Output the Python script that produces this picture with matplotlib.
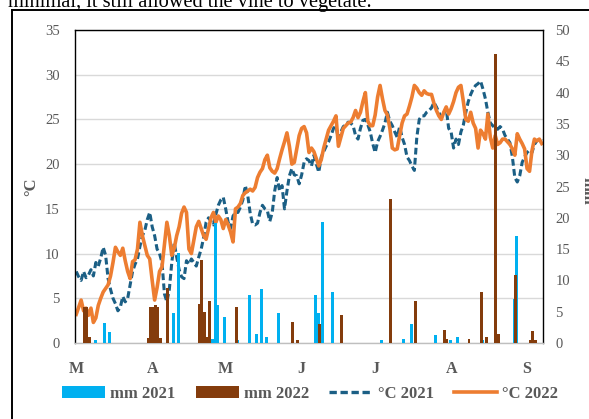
import matplotlib
matplotlib.use('Agg')
import matplotlib.pyplot as plt
from matplotlib.lines import Line2D
from matplotlib.patches import Patch
import numpy as np

# ---------------- data (daily, 1 March -> 7 September) ----------------
temp_2021 = [8.0, 7.4, 7.0, 8.0, 7.3, 7.6, 8.2, 7.5, 9.0, 8.6,
             9.5, 10.7, 9.8, 7.2, 6.0, 5.0, 4.4, 3.6, 4.0, 5.2,
             4.6, 5.0, 6.5, 8.0, 8.8, 9.4, 10.8, 12.0, 12.6, 13.8,
             14.6, 13.0, 12.0, 10.5, 10.0, 9.0, 5.5, 4.6, 6.0,
             9.0, 11.2, 9.6, 8.2, 7.4, 7.2, 9.2, 8.8, 9.4, 9.0,
             8.6, 9.6, 10.5, 11.8, 13.5, 14.0, 13.6, 13.2, 14.4, 15.4,
             16.0, 16.3, 15.0, 13.5, 12.8, 14.2, 14.6, 14.6, 15.2, 16.0,
             17.6, 16.5, 14.5, 13.3, 13.2, 13.4, 14.6, 15.4,
             15.0, 14.8, 13.6, 14.6, 17.0, 18.5, 17.0, 17.6, 15.0, 17.0,
             18.7, 19.5, 18.8, 18.7, 17.8, 18.8, 20.2, 20.6, 20.4, 19.8,
             21.0, 20.0, 19.1, 20.8, 21.4, 22.0, 22.5, 23.2, 24.0, 24.3,
             22.8, 23.6, 24.2, 24.4, 24.7, 24.6, 24.3, 23.2,
             22.8, 24.0, 24.9, 25.0, 24.4, 23.6, 22.3, 21.3, 22.5, 23.1,
             23.8, 24.6, 25.8, 24.8, 24.3, 23.6, 23.0, 24.2, 23.0, 22.2,
             20.8, 20.4, 19.8, 19.3, 23.0, 25.0, 25.4, 25.4, 25.8, 26.0,
             26.3, 26.9, 26.4, 25.8, 25.2, 25.7, 26.2, 24.0,
             23.6, 21.8, 22.8, 22.2, 23.6, 24.4, 25.8, 27.0, 27.8, 28.4,
             28.8, 29.0, 29.3, 28.4, 27.3, 25.8, 24.6, 24.3, 24.0, 23.9,
             24.2, 23.9, 23.2, 22.8, 22.4, 20.8, 18.5, 18.0, 18.7, 20.2,
             20.8, 21.3, 21.6, 21.3, 22.2, 22.6, 22.8, 22.6]

temp_2022 = [3.2, 4.0, 4.8, 3.6, 3.9, 3.1, 3.9, 2.3, 2.8, 4.2,
             5.0, 5.7, 6.1, 6.5, 7.5, 9.0, 10.7, 10.2, 9.8, 10.6,
             9.2, 8.0, 7.2, 9.1, 9.3, 10.5, 13.5, 12.0, 10.9, 9.8,
             9.4, 7.0, 4.8, 6.2, 8.0, 8.5, 11.0, 13.5, 12.0,
             9.8, 10.6, 12.0, 13.0, 14.5, 15.2, 14.6, 10.5, 10.0, 11.5,
             13.0, 13.6, 12.8, 12.0, 11.6, 12.8, 14.0, 14.6, 13.5, 14.2,
             13.8, 12.8, 13.8, 13.2, 12.4, 11.3, 15.0, 15.2, 15.6, 16.5,
             16.8, 17.0, 17.2, 17.0, 17.4, 18.5, 19.1, 19.5,
             20.5, 21.0, 19.6, 19.2, 19.0, 19.5, 20.6, 21.6, 22.5, 23.5,
             22.0, 20.0, 20.2, 21.7, 23.2, 24.0, 24.2, 23.5, 21.3, 21.8,
             21.4, 20.6, 19.8, 20.5, 21.8, 22.8, 23.8, 24.3, 24.8, 25.4,
             22.0, 23.0, 24.0, 24.3, 24.6, 24.7, 25.2, 26.0,
             25.2, 25.8, 27.0, 28.0, 24.8, 24.3, 24.3, 25.5, 27.5, 28.8,
             27.3, 26.0, 25.5, 24.0, 21.8, 21.6, 21.7, 23.2, 24.6, 25.4,
             25.6, 26.5, 27.5, 28.8, 28.5, 28.0, 27.7, 28.2, 27.9, 27.8,
             27.8, 26.8, 26.0, 25.4, 25.0, 25.8, 26.4, 25.6,
             26.2, 27.0, 28.0, 28.6, 28.8, 27.0, 25.0, 24.8, 25.8, 24.6,
             24.0, 21.8, 23.8, 23.4, 22.8, 25.6, 23.0, 21.8, 23.2, 22.2,
             22.4, 22.8, 22.8, 22.5, 22.2, 21.7, 21.0, 23.4, 22.8, 22.3,
             21.7, 19.5, 19.2, 21.5, 22.8, 22.6, 22.8, 22.3]

rain_days_2021 = [5, 8, 12, 14, 40, 42, 56, 57, 58, 61, 66, 71, 74, 76, 78, 83,
                  98, 99, 101, 105, 125, 134, 137, 147, 153, 156, 166, 179, 180]
rain_mm_2021 = [0.5, 0.4, 3.2, 1.8, 4.8, 14.3, 0.7, 19.1, 6.0, 4.2, 0.4, 7.7, 1.4, 8.7, 1.0, 4.8,
                7.6, 4.8, 19.3, 8.1, 0.5, 0.7, 3.1, 1.3, 0.5, 1.0, 0.4, 7.1, 17.1]

rain_days_2022 = [3, 4, 5, 29, 30, 31, 32, 33, 34, 37, 50, 51, 52, 53, 54, 65, 88, 90,
                  99, 108, 128, 138, 150, 151, 160, 165, 167, 171, 172, 179, 185, 186, 187]
rain_mm_2022 = [5.8, 5.8, 1.0, 0.8, 5.8, 5.8, 6.1, 5.8, 0.8, 8.8, 6.3, 13.3, 5.0, 1.0, 6.7, 5.8, 3.3, 0.5,
                3.0, 4.4, 23.0, 6.7, 2.0, 0.6, 0.7, 8.2, 1.0, 46.2, 1.4, 10.9, 0.5, 1.9, 0.5]

month_labels = ['M', 'A', 'M', 'J', 'J', 'A', 'S']
month_start_days = [0, 31, 61, 92, 122, 153, 184]
temp_ticks = list(range(0, 36, 5))
rain_ticks = list(range(0, 51, 5))

legend_labels = ['mm 2021', 'mm 2022', '°C 2021', '°C 2022']

# ---------------- style ----------------
plt.rcParams['font.family'] = ['Liberation Serif', 'DejaVu Serif']
GREY = '#595959'
C_BLUE_BAR = '#00B0F0'
C_BROWN_BAR = '#843C0C'
C_DASH = '#1B5F85'
C_ORANGE = '#ED7D31'
DASH = (0, (2.2, 1.1))

W, H = 589, 419
fig = plt.figure(figsize=(W / 100, H / 100), dpi=100)
fig.patch.set_facecolor('white')

# cropped caption text from the document above the chart
fig.text(8 / W, (H - 7) / H, 'minimal, it still allowed the vine to vegetate.',
         fontsize=14.7, color='black', ha='left', va='baseline')

# document frame lines
fig.add_artist(Line2D([12 / W, 12 / W], [0, (H - 10) / H], color='black', lw=1.4,
                      transform=fig.transFigure))
fig.add_artist(Line2D([12 / W, 1.0], [(H - 10) / H, (H - 10) / H], color='black', lw=1.4,
                      transform=fig.transFigure))

L, R, T, B = 75, 543, 30, 343
ax = fig.add_axes([L / W, (H - B) / H, (R - L) / W, (B - T) / H])
days = np.arange(len(temp_2021))
ax.set_xlim(-0.5, len(days) - 0.5)
ax.set_ylim(0, 35)
ax.set_yticks(temp_ticks)
ax.yaxis.grid(True, color='#D9D9D9', lw=1.0)
ax.set_axisbelow(True)

ax.plot(days, temp_2021, color=C_DASH, lw=2.2, ls=DASH, dash_capstyle='butt')
ax.plot(days, temp_2022, color=C_ORANGE, lw=2.6, solid_joinstyle='round')

for s in ['left', 'top', 'right']:
    ax.spines[s].set_color('black')
    ax.spines[s].set_linewidth(1.0)
ax.spines['bottom'].set_color('#BFBFBF')
ax.spines['bottom'].set_linewidth(1.0)

ax.tick_params(axis='y', length=0, labelsize=10.5, labelcolor=GREY, pad=11)
ax.set_xticks(month_start_days)
ax.set_xticklabels(month_labels, fontweight='bold')
ax.tick_params(axis='x', length=0, labelsize=11.5, labelcolor=GREY, pad=13)

ax2 = ax.twinx()
ax2.set_ylim(0, 50)
ax2.set_yticks(rain_ticks)
for s in ax2.spines.values():
    s.set_visible(False)
ax2.tick_params(axis='y', length=0, labelsize=10.5, labelcolor=GREY, pad=9)
bw = 1.2
ax2.bar(np.array(rain_days_2021) - 0.3, rain_mm_2021, width=bw, color=C_BLUE_BAR, lw=0)
ax2.bar(np.array(rain_days_2022) + 0.3, rain_mm_2022, width=bw, color=C_BROWN_BAR, lw=0)

# axis titles
fig.text(31 / W, (H - 187) / H, '°C', rotation=90, ha='center', va='center',
         fontsize=12, fontweight='bold', color=GREY)
fig.text(580 / W, (H - 191) / H, 'mm', rotation=270, ha='left', va='center',
         fontsize=12, fontweight='bold', color=GREY)

handles = [Patch(facecolor=C_BLUE_BAR, edgecolor='none'),
           Patch(facecolor=C_BROWN_BAR, edgecolor='none'),
           Line2D([], [], color=C_DASH, lw=2.4, ls=DASH, dash_capstyle='butt'),
           Line2D([], [], color=C_ORANGE, lw=2.6)]
leg = fig.legend(handles, legend_labels, loc='center', ncol=4,
                 bbox_to_anchor=(310 / W, (H - 394) / H), frameon=False,
                 prop={'weight': 'bold', 'size': 12}, handlelength=2.6,
                 handleheight=0.7, handletextpad=0.3, columnspacing=1.2)
for t in leg.get_texts():
    t.set_color(GREY)

fig.savefig('out.png', dpi=100)
